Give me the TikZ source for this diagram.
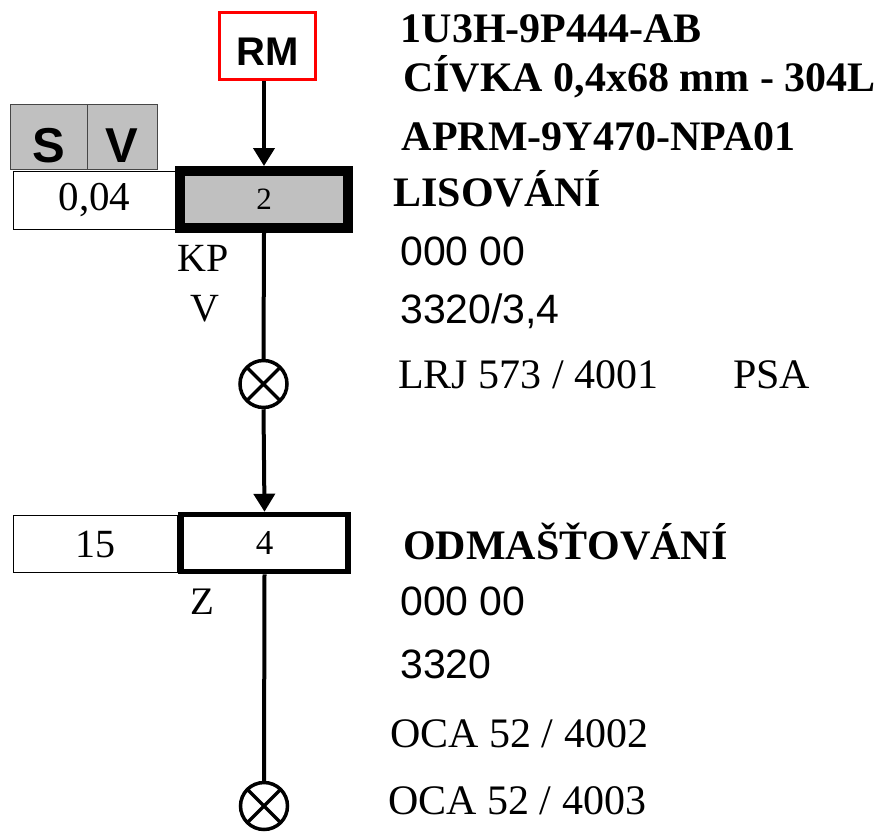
\documentclass[tikz,border=0pt]{standalone}
\usepackage{fontspec}
\setmainfont{Liberation Serif}
\setsansfont{Liberation Sans}
\usepackage{tikz}
\usetikzlibrary{arrows.meta, positioning}
\definecolor{opgray}{RGB}{192,192,192}
\definecolor{rmred}{RGB}{255,0,0}
\definecolor{hdrline}{RGB}{70,70,70}

\begin{document}
\begin{tikzpicture}[x=1pt, y=-1pt,
  flow/.style={line width=4pt},
  flowarrow/.style={flow, -{Triangle[length=18pt, width=21pt]}},
  opbox/.style={draw, inner sep=0pt, minimum width=167pt, minimum height=57pt},
  valbox/.style={draw, line width=1pt, inner sep=0pt, minimum height=57.5pt,
    font=\fontsize{41}{41}\selectfont},
  hdrbox/.style={draw=hdrline, fill=opgray, line width=1pt, inner sep=0pt,
    minimum height=65pt, text height=52pt, text depth=0pt,
    font=\sffamily\bfseries\fontsize{49}{49}\selectfont},
  stopmark/.style={circle, draw, line width=3.5pt, minimum size=47pt, inner sep=0pt,
    path picture={\draw[line width=3.5pt]
      (path picture bounding box.north west) -- (path picture bounding box.south east)
      (path picture bounding box.north east) -- (path picture bounding box.south west);}},
  sidelbl/.style={anchor=base west, inner sep=0pt, font=\fontsize{40}{40}\selectfont},
  headtxt/.style={anchor=base west, inner sep=0pt, font=\bfseries\fontsize{42}{44}\selectfont},
  codetxt/.style={anchor=base west, inner sep=0pt, font=\sffamily\fontsize{41}{43}\selectfont},
  reftxt/.style={anchor=base west, inner sep=0pt, font=\fontsize{42}{44}\selectfont}]
\useasboundingbox (0,0) rectangle (880,833);

% material source
\node[draw=rmred, line width=3pt, inner sep=0pt, minimum width=96pt, minimum height=67pt,
  text height=38pt, text depth=0pt, font=\sffamily\bfseries\fontsize{40}{40}\selectfont]
  (rm) at (267.5,46) {RM};

% S / V header
\node[hdrbox, minimum width=77pt] (hdrS) at (48.8,136.7) {S};
\node[hdrbox, minimum width=70pt] (hdrV) at (122.3,136.7) {V};

% operation 2
\node[opbox, line width=10pt, fill=opgray, minimum width=167.5pt,
  font=\fontsize{31}{31}\selectfont] (op2) at (264,199.5) {2};
\node[valbox, minimum width=162pt] (val2) at (94.5,200.5) {0,04};
\node[sidelbl] (kp) at (177,271.7) {KP};
\node[sidelbl] (ctrl2) at (190,321.7) {V};
\node[stopmark] (stop1) at (263.5,384) {};

% operation 4
\node[opbox, line width=5.5pt, font=\fontsize{35}{35}\selectfont] (op4) at (264.5,543) {4};
\node[valbox, minimum width=164.5pt, font=\fontsize{40}{40}\selectfont] (val4) at (95.7,544) {15};
\node[sidelbl, font=\fontsize{39}{39}\selectfont] (ctrl4) at (190,614) {Z};
\node[stopmark] (stop2) at (264,806) {};

% flow
\draw[flowarrow] (rm.south -| op2.north) -- (op2.north);
\draw[flow] (op2.south) -- (stop1.north);
\draw[flowarrow] (stop1.south) -- (op4.north);
\draw[flow] (op4.south) -- (stop2.north);

% part data
\node[headtxt] (part) at (400.5,42.7) {1U3H-9P444-AB};
\node[headtxt] (coil) at (403,91.7) {CÍVKA 0,4x68 mm - 304L};
\node[headtxt] (tool) at (401.7,150) {APRM-9Y470-NPA01};
\node[headtxt] (name2) at (393.3,206.7) {LISOVÁNÍ};
\node[codetxt] (code2) at (400,265) {000 00};
\node[codetxt] (wc2) at (400,323) {3320/3,4};
\node[reftxt] (mach2) at (398,388) {LRJ 573 / 4001};
\node[reftxt] (psa) at (733,388) {PSA};

\node[headtxt] (name4) at (403,559) {ODMAŠŤOVÁNÍ};
\node[codetxt] (code4) at (400,615) {000 00};
\node[codetxt] (wc4) at (400,678) {3320};
\node[reftxt] (mach4a) at (390,747) {OCA 52 / 4002};
\node[reftxt] (mach4b) at (388,814) {OCA 52 / 4003};
\end{tikzpicture}
\end{document}
